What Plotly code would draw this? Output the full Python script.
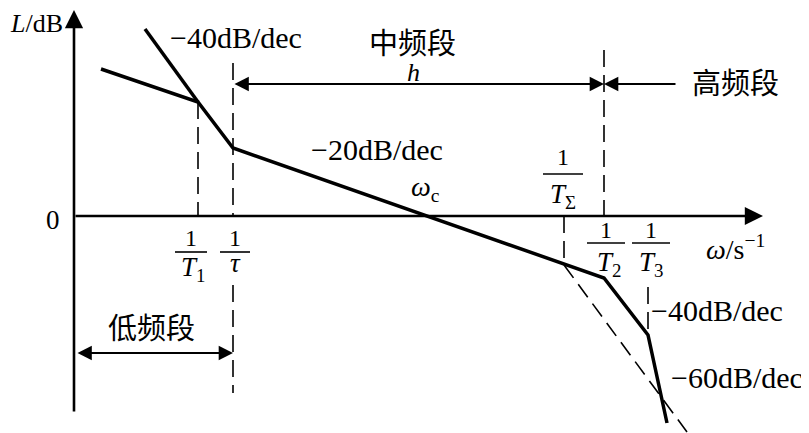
import plotly.graph_objects as go

# corner frequencies (schematic positions along the omega axis)
w_T1 = 124
w_tau = 159
w_c = 351
w_Tsig = 490
w_T2 = 530
w_T3 = 574

# asymptotic magnitude curve L (dB, schematic)
omega_main = [27, w_T1, w_tau, w_T2, w_T3, 593]
L_main = [147, 114, 68, -62, -119, -207]

# -40 dB/dec line above the 1/T1 corner
omega_m40 = [71, w_T1]
L_m40 = [187, 114]

# dashed -40 dB/dec branch from 1/T_sigma
omega_dash = [w_Tsig, 613]
L_dash = [-49, -216]

# vertical guide lines (omega, L from, L to)
guides = [
    (w_T1, 114, 0),
    (w_tau, 153, 0),
    (w_tau, -69, -177),
    (w_Tsig, 0, -49),
    (w_T2, 166, 0),
    (w_T3, -71, -119),
]

SERIF = "Liberation Serif, Times New Roman, serif"
CJK = "Noto Sans CJK SC"

fig = go.Figure()

fig.add_trace(go.Scatter(x=omega_main, y=L_main, mode="lines",
                         line=dict(color="black", width=3.5)))
fig.add_trace(go.Scatter(x=omega_m40, y=L_m40, mode="lines",
                         line=dict(color="black", width=3.5)))
fig.add_trace(go.Scatter(x=omega_dash, y=L_dash, mode="lines",
                         line=dict(color="black", width=1.6, dash="16px,8px")))
for w, l0, l1 in guides:
    fig.add_trace(go.Scatter(x=[w, w], y=[l0, l1], mode="lines",
                             line=dict(color="black", width=1.6, dash="17px,8px")))


def arrow(x0, y0, x1, y1, both=False, width=2.2, size=1.3):
    fig.add_annotation(x=x1, y=y1, ax=x0, ay=y0, xref="x", yref="y",
                       axref="x", ayref="y", text="", showarrow=True,
                       arrowhead=2, arrowsize=size, arrowwidth=width,
                       arrowcolor="black",
                       arrowside="end+start" if both else "end")


def label(x, y, text, size=26, font=SERIF, xanchor="center"):
    fig.add_annotation(x=x, y=y, xref="x", yref="y", text=text, showarrow=False,
                       xanchor=xanchor,
                       font=dict(family=font, size=size, color="black"))


# axes
arrow(0, -197, 0, 206, width=2.6, size=1.4)
arrow(0, 0, 689, 0, width=2.6, size=1.4)

# band arrows
arrow(w_tau, 132, w_T2, 132, both=True)
arrow(603, 132, w_T2, 132)
arrow(2, -137, w_tau, -137, both=True)


def frac(w, den, dx=0, den_dx=0, y_num=-22, y_bar=-36, y_den=-53, half=16):
    label(w + dx, y_num, "1", size=24)
    fig.add_shape(type="line", x0=w + dx - half, x1=w + dx + half, y0=y_bar, y1=y_bar,
                  xref="x", yref="y", line=dict(color="black", width=1.6))
    label(w + dx + den_dx, y_den, den, size=27)


frac(w_T1, "<i>T</i><sub>1</sub>", dx=-7, den_dx=2)
frac(w_tau, "<i>τ</i>", dx=2, y_den=-47, half=15)
frac(w_Tsig, "<i>T</i><sub>Σ</sub>", dx=-1, y_num=59, y_bar=42, y_den=20, half=20)
frac(w_T2, "<i>T</i><sub>2</sub>", dx=2, den_dx=3, y_num=-14, y_bar=-27, y_den=-48, half=19)
frac(w_T3, "<i>T</i><sub>3</sub>", dx=3, y_num=-14, y_bar=-27, y_den=-48, half=19)

label(-66, 193, "<i>L</i>/dB", size=26, xanchor="left")
label(-21, -4, "0", size=27)
label(661, -31, "<i>ω</i>/s<sup>−1</sup>", size=28)
label(w_c, 28, "<i>ω</i><sub>c</sub>", size=28)
label(339, 144, "<i>h</i>", size=26)
label(162, 179, "−40dB/dec", size=30)
label(303, 67, "−20dB/dec", size=30)
label(643, -94, "−40dB/dec", size=30)
label(663, -161, "−60dB/dec", size=30)
label(338, 175, "中频段", size=29, font=CJK)
label(661, 135, "高频段", size=29, font=CJK)
label(77, -110, "低频段", size=29, font=CJK)

# the page body adds an 8px margin, so the figure is 8px smaller and its ranges start 8px later
fig.update_layout(
    width=801, height=425,
    margin=dict(l=0, r=0, t=0, b=0),
    paper_bgcolor="white", plot_bgcolor="white",
    showlegend=False,
    xaxis=dict(range=[-66, 735], visible=False, fixedrange=True),
    yaxis=dict(range=[-217, 208], visible=False, fixedrange=True),
)

fig.write_html("out.html")
